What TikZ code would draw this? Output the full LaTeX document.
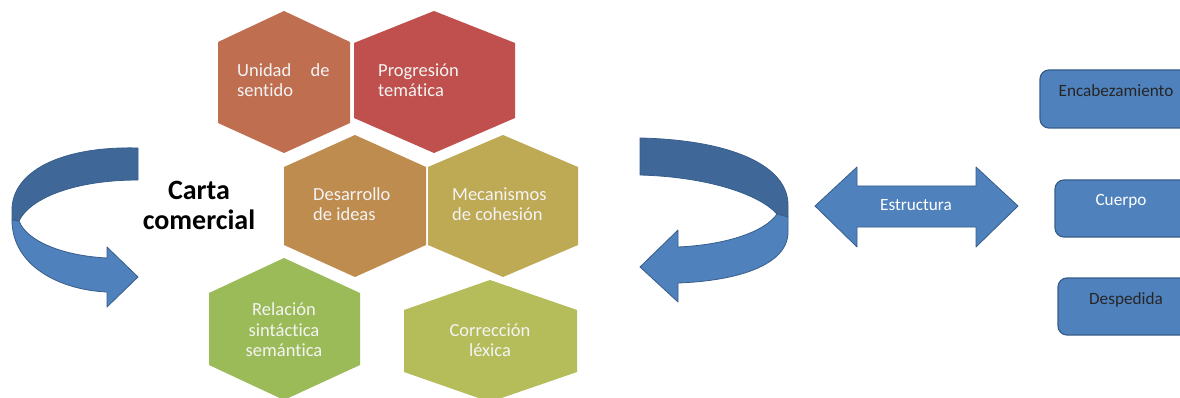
\documentclass[tikz,border=0pt]{standalone}
\usepackage{fontspec}
\setmainfont{Carlito}[Ligatures=NoCommon]
\definecolor{hA}{HTML}{C06E50}
\definecolor{hB}{HTML}{C0504D}
\definecolor{hC}{HTML}{BF8C50}
\definecolor{hD}{HTML}{BEA955}
\definecolor{hE}{HTML}{9BBB59}
\definecolor{hF}{HTML}{B5BD5B}
\definecolor{blueL}{HTML}{4F81BD}
\definecolor{blueD}{HTML}{3F6898}
\definecolor{blueE}{HTML}{385D8A}
\definecolor{hexText}{HTML}{F4F4F4}
\newcommand\hexa[8]{\fill[#1] (#2,#5) -- (#4,#6) -- (#4,#7) -- (#2,#8) -- (#3,#7) -- (#3,#6) -- cycle;}
\begin{document}
\begin{tikzpicture}[x=1pt,y=-1pt,
  hextxt/.style={text=hexText, font=\fontsize{18.5}{20.5}\selectfont, inner sep=0pt},
  arrowshape/.style={draw=blueE, line width=0.8pt, line join=round},
  boxshape/.style={fill=blueL, draw=blueE, line width=1.2pt, rounded corners=9pt},
  boxtxt/.style={font=\fontsize{17.2}{19}\selectfont, inner sep=0pt},
  titletxt/.style={font=\fontsize{28}{30}\selectfont\bfseries, align=center, inner sep=0pt}]
\useasboundingbox (0,0) rectangle (1180,398);
\clip (0,0) rectangle (1180,398);
\fill[white] (0,0) rectangle (1180,398);
% hexagons
\hexa{hA}{284}{218}{350}{11}{42}{123}{153}
\hexa{hB}{434}{354}{515}{11}{43}{118}{153}
\hexa{hC}{355}{284}{426}{135}{167}{245}{277}
\hexa{hD}{503}{428}{578}{135}{167}{245}{277}
\hexa{hE}{284}{209}{360}{258}{293}{365}{400}
\hexa{hF}{490}{404}{577}{280}{310}{372}{402}
\node[hextxt, anchor=west, align=left] (unidad) at (237,80) {Unidad\hspace{1.05em}de\\sentido};
\node[hextxt, anchor=west, align=left] (progresion) at (378,80) {Progresión\\temática};
\node[hextxt, anchor=west, align=left] (desarrollo) at (313,204) {Desarrollo\\de ideas};
\node[hextxt, anchor=west, align=left] (mecanismos) at (452,204) {Mecanismos\\de cohesión};
\node[hextxt, align=center] (relacion) at (284,330) {Relación\\sintáctica\\semántica};
\node[hextxt, align=center] (correccion) at (490,340) {Corrección\\léxica};
\node[titletxt] (carta) at (199,205) {Carta\\comercial};
% left curved arrow
\path[arrowshape, fill=blueD] (138,148) .. controls (60,146) and (12,172) .. (12,210) -- (12,220) -- (19,221) .. controls (30,198) and (75,180) .. (138,180) -- cycle;
\path[arrowshape, fill=blueL] (12,220) .. controls (12,266) and (60,290) .. (107,292) -- (107,307) -- (138,277) -- (107,247) -- (107,258) .. controls (65,256) and (27,242) .. (19,221) -- cycle;
% right curved arrow
\path[arrowshape, fill=blueD] (640,138) .. controls (730,140) and (788,165) .. (788,205) -- (788,217) -- (777,214) .. controls (760,195) and (710,177) .. (640,175) -- cycle;
\path[arrowshape, fill=blueL] (777,214) -- (788,217) -- (788,232) .. controls (788,266) and (735,281) .. (678,283) -- (678,302) -- (640,267) -- (678,230) -- (678,247) .. controls (725,245) and (765,232) .. (777,214) -- cycle;
% double arrow
\path[arrowshape, fill=blueL] (815,206) -- (857,167) -- (857,186) -- (976,186) -- (976,167) -- (1018,206) -- (976,247) -- (976,227) -- (857,227) -- (857,247) -- cycle;
\node[boxtxt, text=white] (estructura) at (916,205) {Estructura};
% boxes
\path[boxshape] (1040,70) rectangle (1200,128);
\node[boxtxt, text=black!85] (encab) at (1116,91) {Encabezamiento};
\path[boxshape] (1055,180) rectangle (1200,237);
\node[boxtxt, text=white] (cuerpo) at (1121,201) {Cuerpo};
\path[boxshape] (1058,278) rectangle (1200,335);
\node[boxtxt, text=black!85] (despedida) at (1126,300) {Despedida};
\end{tikzpicture}
\end{document}
